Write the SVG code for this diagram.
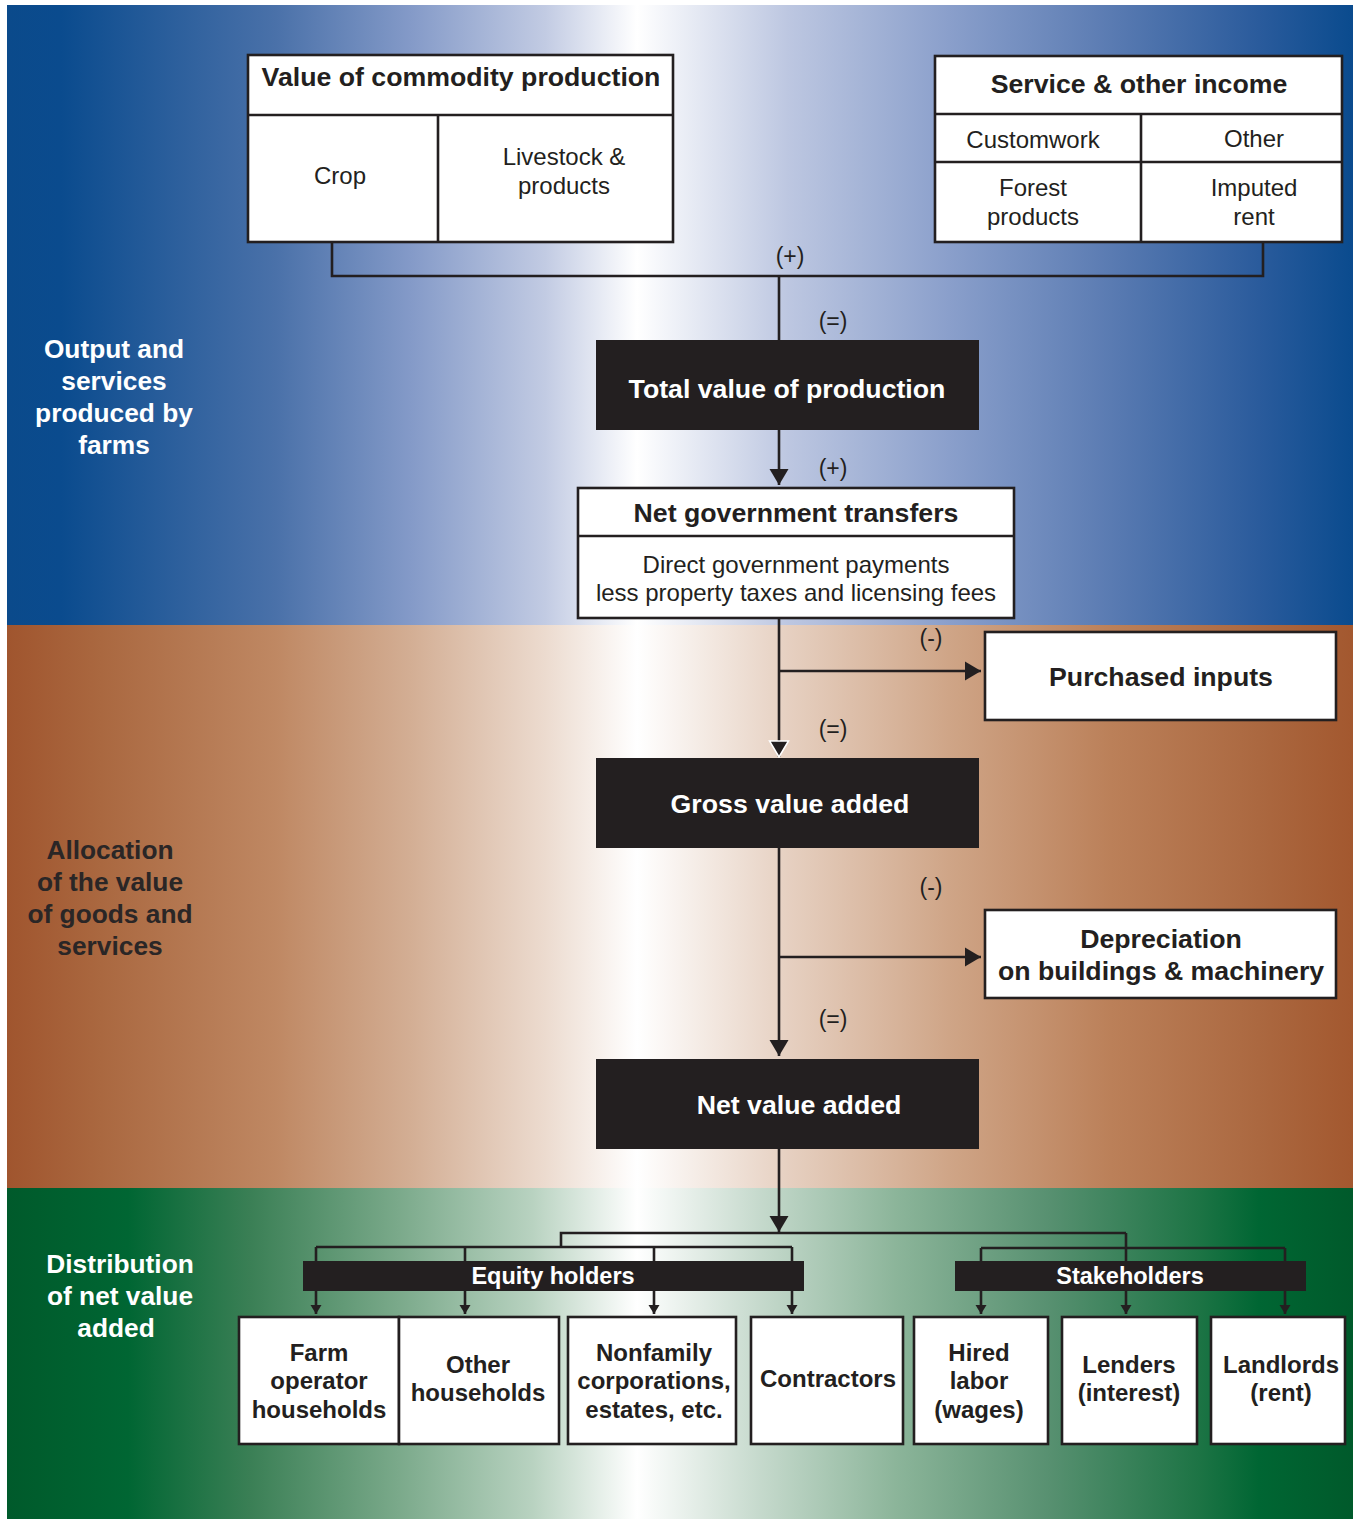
<svg xmlns="http://www.w3.org/2000/svg" width="1353" height="1519" viewBox="0 0 1353 1519">
<defs>
<linearGradient id="gBlue" gradientUnits="userSpaceOnUse" x1="7" y1="0" x2="1353" y2="0">
<stop offset="0" stop-color="#0b4a8b"/>
<stop offset="0.04" stop-color="#0a4b8e"/>
<stop offset="0.2" stop-color="#4a71a9"/>
<stop offset="0.3" stop-color="#849ac8"/>
<stop offset="0.4" stop-color="#c2cbe3"/>
<stop offset="0.468" stop-color="#ffffff"/>
<stop offset="0.58" stop-color="#bdc7e1"/>
<stop offset="0.7" stop-color="#8a9fcb"/>
<stop offset="0.82" stop-color="#5a7bb2"/>
<stop offset="0.93" stop-color="#2a5b9c"/>
<stop offset="1" stop-color="#0a4b8e"/>
</linearGradient>
<linearGradient id="gBrown" gradientUnits="userSpaceOnUse" x1="7" y1="0" x2="1353" y2="0">
<stop offset="0" stop-color="#a0552e"/>
<stop offset="0.07" stop-color="#aa6840"/>
<stop offset="0.2" stop-color="#bf8863"/>
<stop offset="0.3" stop-color="#d3ae94"/>
<stop offset="0.4" stop-color="#ecdbcf"/>
<stop offset="0.468" stop-color="#ffffff"/>
<stop offset="0.58" stop-color="#e6d0c1"/>
<stop offset="0.7" stop-color="#cfa587"/>
<stop offset="0.82" stop-color="#bb8059"/>
<stop offset="0.93" stop-color="#ab6840"/>
<stop offset="1" stop-color="#a3582f"/>
</linearGradient>
<linearGradient id="gGreen" gradientUnits="userSpaceOnUse" x1="7" y1="0" x2="1353" y2="0">
<stop offset="0" stop-color="#005a2b"/>
<stop offset="0.09" stop-color="#006633"/>
<stop offset="0.18" stop-color="#3a7f55"/>
<stop offset="0.29" stop-color="#7aa98a"/>
<stop offset="0.39" stop-color="#b8d2c0"/>
<stop offset="0.468" stop-color="#ffffff"/>
<stop offset="0.56" stop-color="#c5d9cc"/>
<stop offset="0.66" stop-color="#8cb59a"/>
<stop offset="0.775" stop-color="#579070"/>
<stop offset="0.885" stop-color="#1d7445"/>
<stop offset="0.93" stop-color="#006633"/>
<stop offset="1" stop-color="#005a2b"/>
</linearGradient>
<marker id="arr" markerUnits="userSpaceOnUse" markerWidth="18" markerHeight="21" refX="16" refY="10" orient="auto" viewBox="0 0 18 21">
<path d="M0,0.5 L16,10 L0,19.5 z" fill="#231f20"/>
</marker>
<marker id="arrW" markerUnits="userSpaceOnUse" markerWidth="20" markerHeight="23" refX="16" refY="11" orient="auto" viewBox="-1 -1 20 23">
<path d="M0,1.5 L16,11 L0,20.5 z" fill="#231f20" stroke="#ffffff" stroke-width="1.5" stroke-linejoin="miter"/>
</marker>
<marker id="arrS" markerUnits="userSpaceOnUse" markerWidth="10" markerHeight="12" refX="9" refY="5.5" orient="auto" viewBox="0 0 10 12">
<path d="M0,0 L9,5.5 L0,11 z" fill="#231f20"/>
</marker>
</defs>
<style>
.box{fill:#ffffff;stroke:#231f20;stroke-width:2.6}
.dark{fill:#231f20}
.ln{fill:none;stroke:#231f20;stroke-width:2.6}
.t{font-family:"Liberation Sans",Arial,Helvetica,sans-serif;fill:#231f20;text-anchor:middle}
.r{font-size:24px}
.b{font-size:26.7px;font-weight:bold}
.bs{font-size:24px;font-weight:bold}
.bb{font-size:23.5px;font-weight:bold}
.w{fill:#ffffff}
.sg{font-size:23px}
.side{font-family:"Liberation Sans",Arial,Helvetica,sans-serif;font-size:26.3px;font-weight:bold;text-anchor:middle}
</style>

<g id="background">
<rect x="0" y="0" width="1353" height="1519" fill="#ffffff"/>
<rect x="7" y="5" width="1346" height="620" fill="url(#gBlue)"/>
<rect x="7" y="625" width="1346" height="563" fill="url(#gBrown)"/>
<rect x="7" y="1188" width="1346" height="331" fill="url(#gGreen)"/>
</g>

<g id="section-labels">
<text class="side" fill="#ffffff"><tspan x="114" y="358">Output and</tspan><tspan x="114" y="390">services</tspan><tspan x="114" y="422">produced by</tspan><tspan x="114" y="454">farms</tspan></text>
<text class="side" fill="#2a2626"><tspan x="110" y="859">Allocation</tspan><tspan x="110" y="891">of the value</tspan><tspan x="110" y="923">of goods and</tspan><tspan x="110" y="955">services</tspan></text>
<text class="side" fill="#ffffff"><tspan x="120" y="1273">Distribution</tspan><tspan x="120" y="1305">of net value</tspan><tspan x="116" y="1337">added</tspan></text>
</g>

<g id="connectors">
<path class="ln" d="M332,242 V276 H1263 V242"/>
<path class="ln" d="M779,276 V340"/>
<path class="ln" d="M779,430 V485" marker-end="url(#arr)"/>
<path class="ln" d="M779,618 V757" marker-end="url(#arrW)"/>
<path class="ln" d="M779,671 H981" marker-end="url(#arr)"/>
<path class="ln" d="M779,848 V1056" marker-end="url(#arr)"/>
<path class="ln" d="M779,957 H981" marker-end="url(#arr)"/>
<path class="ln" d="M779,1149 V1232" marker-end="url(#arr)"/>
<path class="ln" d="M561,1248 V1233 H1126"/>
<path class="ln" d="M316,1247 H792"/>
<path class="ln" d="M316,1247 V1314" marker-end="url(#arrS)"/>
<path class="ln" d="M465,1247 V1314" marker-end="url(#arrS)"/>
<path class="ln" d="M654,1247 V1314" marker-end="url(#arrS)"/>
<path class="ln" d="M792,1247 V1314" marker-end="url(#arrS)"/>
<path class="ln" d="M981,1248 H1285"/>
<path class="ln" d="M981,1248 V1314" marker-end="url(#arrS)"/>
<path class="ln" d="M1126,1233 V1314" marker-end="url(#arrS)"/>
<path class="ln" d="M1285,1248 V1314" marker-end="url(#arrS)"/>
<text class="t sg" x="790" y="264">(+)</text>
<text class="t sg" x="833" y="329">(=)</text>
<text class="t sg" x="833" y="476">(+)</text>
<text class="t sg" x="931" y="646">(-)</text>
<text class="t sg" x="833" y="737">(=)</text>
<text class="t sg" x="931" y="895">(-)</text>
<text class="t sg" x="833" y="1027">(=)</text>
</g>

<g id="value-of-commodity-production">
<rect class="box" x="248" y="55" width="425" height="187"/>
<path class="ln" d="M248,115 H673 M438,115 V242"/>
<text class="t b" x="461" y="86">Value of commodity production</text>
<text class="t r" x="340" y="184">Crop</text>
<text class="t r"><tspan x="564" y="165">Livestock &amp;</tspan><tspan x="564" y="194">products</tspan></text>
</g>

<g id="service-other-income">
<rect class="box" x="935" y="56" width="407" height="186"/>
<path class="ln" d="M935,114 H1342 M935,162 H1342 M1141,114 V242"/>
<text class="t b" x="1139" y="93">Service &amp; other income</text>
<text class="t r" x="1033" y="148">Customwork</text>
<text class="t r" x="1254" y="147">Other</text>
<text class="t r"><tspan x="1033" y="196">Forest</tspan><tspan x="1033" y="225">products</tspan></text>
<text class="t r"><tspan x="1254" y="196">Imputed</tspan><tspan x="1254" y="225">rent</tspan></text>
</g>

<g id="total-value-of-production">
<rect class="dark" x="596" y="340" width="383" height="90"/>
<text class="t b w" x="787" y="398">Total value of production</text>
</g>

<g id="net-government-transfers">
<rect class="box" x="578" y="488" width="436" height="130"/>
<path class="ln" d="M578,536 H1014"/>
<text class="t b" x="796" y="522">Net government transfers</text>
<text class="t r"><tspan x="796" y="573">Direct government payments</tspan><tspan x="796" y="601">less property taxes and licensing fees</tspan></text>
</g>

<g id="purchased-inputs">
<rect class="box" x="985" y="632" width="351" height="88"/>
<text class="t b" x="1161" y="686">Purchased inputs</text>
</g>

<g id="gross-value-added">
<rect class="dark" x="596" y="758" width="383" height="90"/>
<text class="t b w" x="790" y="813">Gross value added</text>
</g>

<g id="depreciation">
<rect class="box" x="985" y="910" width="351" height="88"/>
<text class="t b"><tspan x="1161" y="948">Depreciation</tspan><tspan x="1161" y="980">on buildings &amp; machinery</tspan></text>
</g>

<g id="net-value-added">
<rect class="dark" x="596" y="1059" width="383" height="90"/>
<text class="t b w" x="799" y="1114">Net value added</text>
</g>

<g id="equity-holders">
<rect class="dark" x="303" y="1261" width="501" height="30"/>
<text class="t bb w" x="553" y="1284">Equity holders</text>
</g>

<g id="stakeholders">
<rect class="dark" x="955" y="1261" width="351" height="30"/>
<text class="t bb w" x="1130" y="1284">Stakeholders</text>
</g>

<g id="farm-operator-households">
<rect class="box" x="239" y="1317" width="160" height="127"/>
<text class="t bs"><tspan x="319" y="1361">Farm</tspan><tspan x="319" y="1389">operator</tspan><tspan x="319" y="1418">households</tspan></text>
</g>
<g id="other-households">
<rect class="box" x="399" y="1317" width="160" height="127"/>
<text class="t bs"><tspan x="478" y="1373">Other</tspan><tspan x="478" y="1401">households</tspan></text>
</g>
<g id="nonfamily">
<rect class="box" x="568" y="1317" width="168" height="127"/>
<text class="t bs"><tspan x="654" y="1361">Nonfamily</tspan><tspan x="654" y="1389">corporations,</tspan><tspan x="654" y="1418">estates, etc.</tspan></text>
</g>
<g id="contractors">
<rect class="box" x="751" y="1317" width="152" height="127"/>
<text class="t bs" x="828" y="1387">Contractors</text>
</g>
<g id="hired-labor">
<rect class="box" x="914" y="1317" width="134" height="127"/>
<text class="t bs"><tspan x="979" y="1361">Hired</tspan><tspan x="979" y="1389">labor</tspan><tspan x="979" y="1418">(wages)</tspan></text>
</g>
<g id="lenders">
<rect class="box" x="1062" y="1317" width="135" height="127"/>
<text class="t bs"><tspan x="1129" y="1373">Lenders</tspan><tspan x="1129" y="1401">(interest)</tspan></text>
</g>
<g id="landlords">
<rect class="box" x="1211" y="1317" width="134" height="127"/>
<text class="t bs"><tspan x="1281" y="1373">Landlords</tspan><tspan x="1281" y="1401">(rent)</tspan></text>
</g>
</svg>
